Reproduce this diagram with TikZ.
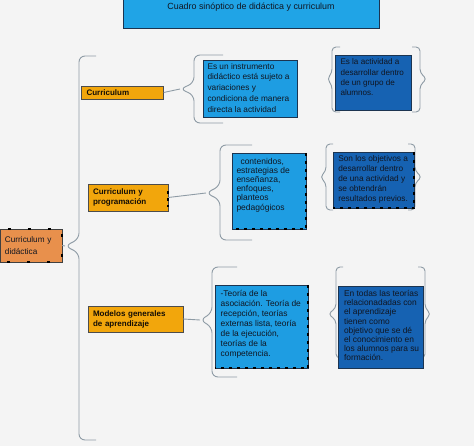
\documentclass[tikz,border=0pt]{standalone}
\usepackage{fontspec}
\setmainfont{Liberation Sans}
\usepackage{xcolor}
\definecolor{sbback}{RGB}{244,244,244}
\definecolor{sbtitle}{RGB}{32,164,230}
\definecolor{sblight}{RGB}{30,157,226}
\definecolor{sbdark}{RGB}{22,98,178}
\definecolor{sbedge}{RGB}{28,52,80}
\definecolor{sborange}{RGB}{242,166,12}
\definecolor{sbroot}{RGB}{232,144,76}
\definecolor{sbbrace}{RGB}{142,155,165}
\definecolor{sbink}{RGB}{16,22,34}
\usepackage{tikz}
\usetikzlibrary{positioning, calc}

\tikzset{
  titlebox/.style={draw=sbedge, fill=sbtitle, text=sbink, font=\fontsize{8.9}{10}\selectfont,
    minimum width=256pt, text height=8pt, text depth=15.5pt, inner ysep=3pt},
  rootbox/.style={draw=black!75, fill=sbroot, text=sbink, font=\fontsize{8.2}{12}\selectfont,
    align=left, text width=52pt, inner xsep=5pt, inner ysep=0pt, minimum height=33pt},
  catbox/.style={draw=black!70, fill=sborange, text=black!90!brown,
    font=\fontsize{8}{10}\selectfont\bfseries, align=left, inner xsep=5pt, inner ysep=0pt},
  lightbox/.style={draw=sbedge, fill=sblight, inner sep=0pt},
  darkbox/.style={draw=sbedge, fill=sbdark, inner sep=0pt},
  boxtext/.style={text=sbink, font=\fontsize{8.3}{10}\selectfont, align=left, inner sep=0pt},
  curly/.style={draw=sbbrace, line width=0.9pt, rounded corners=6pt},
  smallcurly/.style={draw=sbbrace, line width=0.9pt, rounded corners=4pt},
  dashedge/.style={draw=black, line width=2.4pt, dash pattern=on 3pt off 5pt},
  rootdash/.style={draw=black, line width=1.6pt, dash pattern=on 3pt off 17pt, dash phase=-8pt},
}

\begin{document}
\begin{tikzpicture}[x=1pt, y=-1pt]
  \fill[sbback] (0,0) rectangle (474,446);
  \useasboundingbox (0,0) rectangle (474,446);

  % Title
  \node[titlebox, anchor=base] (title) at (251,10) {Cuadro sinóptico de didáctica y curriculum};

  % Root and main brace
  \node[rootbox] (root) at (31,245.5) {Curriculum y\\didáctica};
  \draw[rootdash] (root.north west) -- (root.north east) -- (root.south east) -- (root.south west);
  \coordinate (mtip) at (65,246);
  \draw[curly] (96,56) -- (79,56) -- (79,239) -- (mtip) -- (79,253) -- (79,440) -- (96,440);
  \draw[curly] (root.east) -- (mtip);

  % --- Row 1: Curriculum ---
  \node[catbox, text width=72pt, minimum height=13pt] (cur) at (122.5,92.5) {Curriculum};
  \coordinate (t1) at (180,89);
  \draw[curly] (223,55) -- (194,55) -- (194,83) -- (t1) -- (194,95) -- (194,123) -- (223,123);
  \draw[curly] (cur.east) -- (t1);

  \node[lightbox, minimum width=94pt, minimum height=57pt] (lb1) at (250,88.5) {};
  \node[boxtext, font=\fontsize{8.3}{10.7}\selectfont, below right=3.2pt and 4.5pt of lb1.north west] (lb1t)
    {Es un instrumento\\didáctico está sujeto a\\variaciones y\\condiciona de manera\\directa la actividad};

  \draw[smallcurly] (340,47) -- (332,47) -- (332,73) -- (327,79) -- (332,85) -- (332,112) -- (340,112);
  \draw[smallcurly] (412,47) -- (420,47) -- (420,73) -- (427,79) -- (420,85) -- (420,112) -- (412,112);
  \node[darkbox, minimum width=76pt, minimum height=55pt] (db1) at (373,82.5) {};
  \node[boxtext, font=\fontsize{8.1}{10.3}\selectfont, below right=3.9pt and 5.5pt of db1.north west] (db1t)
    {Es la actividad a\\desarrollar dentro\\de un grupo de\\alumnos.};

  % --- Row 2: Curriculum y programacion ---
  \node[catbox, text width=70pt, minimum height=27pt] (prog) at (128,197.5) {Curriculum y\\programación};
  \draw[draw=black, line width=2pt, dash pattern=on 3pt off 4pt] ($(prog.east)+(0,-6)$) -- ($(prog.east)+(0,10)$);
  \coordinate (t2) at (206,193);
  \draw[curly] (252,145) -- (220,145) -- (220,186) -- (t2) -- (220,200) -- (220,240) -- (252,240);
  \draw[curly] (prog.east) -- (t2);

  \node[lightbox, minimum width=74pt, minimum height=76pt] (lb2) at (269,191) {};
  \draw[dashedge] (lb2.north east) -- (lb2.south east) -- (lb2.south west);
  \node[boxtext, font=\fontsize{8.5}{9.2}\selectfont, below right=4.9pt and 4.5pt of lb2.north west] (lb2t)
    {\hspace*{4pt}contenidos,\\estrategias de\\enseñanza,\\enfoques,\\planteos\\pedagógicos};

  \draw[smallcurly] (333,144) -- (326,144) -- (326,171) -- (320,177) -- (326,183) -- (326,210) -- (333,210);
  \draw[smallcurly] (408,144) -- (415,144) -- (415,171) -- (422,177) -- (415,183) -- (415,210) -- (408,210);
  \node[darkbox, minimum width=81pt, minimum height=56pt] (db2) at (373.5,180) {};
  \draw[dashedge] (db2.north east) -- (db2.south east) -- (db2.south west);
  \node[boxtext, font=\fontsize{8.3}{10}\selectfont, below right=3.5pt and 5.3pt of db2.north west] (db2t)
    {Son los objetivos a\\desarrollar dentro\\de una actividad y\\se obtendrán\\resultados previos.};

  % --- Row 3: Modelos generales de aprendizaje ---
  \node[catbox, text width=85pt, minimum height=26pt] (mod) at (135.5,319) {Modelos generales\\de aprendizaje};
  \coordinate (t3) at (200,320);
  \draw[curly] (237,267) -- (212,267) -- (212,313) -- (t3) -- (212,327) -- (212,377) -- (237,377);
  \draw[curly] (mod.east) -- (t3);

  \node[lightbox, minimum width=93pt, minimum height=83pt] (lb3) at (261.5,326.5) {};
  \draw[dashedge] (lb3.north east) -- (lb3.south east) -- (lb3.south west);
  \node[boxtext, font=\fontsize{8.4}{10}\selectfont, below right=5.5pt and 5.7pt of lb3.north west] (lb3t)
    {-Teoría de la\\asociación. Teoría de\\recepción, teorías\\externas lista, teoría\\de la ejecución,\\teorías de la\\competencia.};

  \draw[smallcurly] (343,267) -- (336,267) -- (336,308) -- (328,314) -- (336,320) -- (336,358) -- (343,358);
  \draw[smallcurly] (418,267) -- (425,267) -- (425,308) -- (431,314) -- (425,320) -- (425,358) -- (418,358);
  \node[darkbox, minimum width=85pt, minimum height=82pt] (db3) at (380.5,327) {};
  \node[boxtext, font=\fontsize{8.4}{9.15}\selectfont, below right=4.5pt and 6pt of db3.north west] (db3t)
    {En todas las teorías\\relacionadadas con\\el aprendizaje\\tienen como\\objetivo que se dé\\el conocimiento en\\los alumnos para su\\formación.};
\end{tikzpicture}
\end{document}
